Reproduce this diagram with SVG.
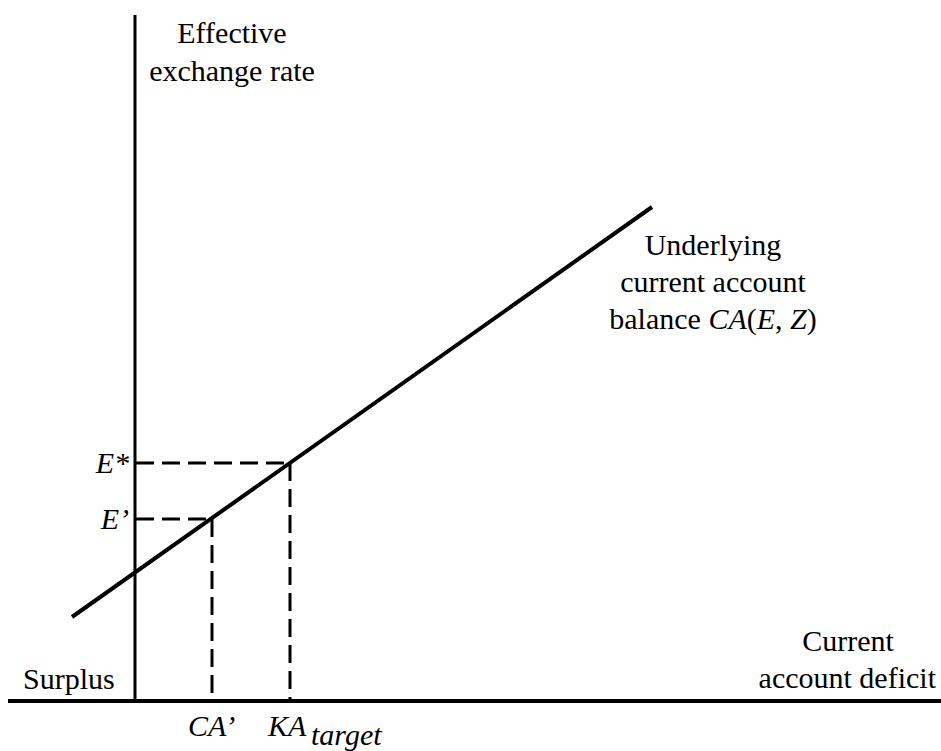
<svg xmlns="http://www.w3.org/2000/svg" width="941" height="751" viewBox="0 0 941 751">
<style>
text{font-family:"Liberation Serif","Times New Roman",serif;font-size:30px;fill:#000}
.it{font-style:italic}
.axis{stroke:#000;fill:none}
.dash{stroke:#000;stroke-width:3;stroke-dasharray:18 8;fill:none}
</style>
<rect width="941" height="751" fill="#fff"/>
<g id="axes">
<line class="axis" x1="135" y1="15" x2="135" y2="701" stroke-width="3"/>
<line class="axis" x1="8" y1="701" x2="941" y2="701" stroke-width="4"/>
</g>
<g id="connectors">
<line x1="72" y1="617" x2="652" y2="207" stroke="#000" stroke-width="4"/>
<path class="dash" d="M136 463H290M290 463V700"/>
<path class="dash" d="M136 519H212M212 519V700"/>
</g>
<g id="labels">
<text x="232" y="43" text-anchor="middle">Effective</text>
<text x="232" y="81" text-anchor="middle">exchange rate</text>
<text x="713" y="255" text-anchor="middle">Underlying</text>
<text x="713" y="292" text-anchor="middle">current account</text>
<text x="713" y="329" text-anchor="middle">balance <tspan class="it">CA</tspan>(<tspan class="it">E</tspan>, <tspan class="it">Z</tspan>)</text>
<text class="it" x="129" y="473" text-anchor="end">E*</text>
<text class="it" x="129" y="529" text-anchor="end">E’</text>
<text x="23" y="689">Surplus</text>
<text x="848" y="651" text-anchor="middle">Current</text>
<text x="936" y="688" text-anchor="end">account deficit</text>
<text class="it" x="188" y="736">CA’</text>
<text class="it" x="268" y="736">KA</text>
<text class="it" x="311" y="745" font-size="18">target</text>
</g>
</svg>
